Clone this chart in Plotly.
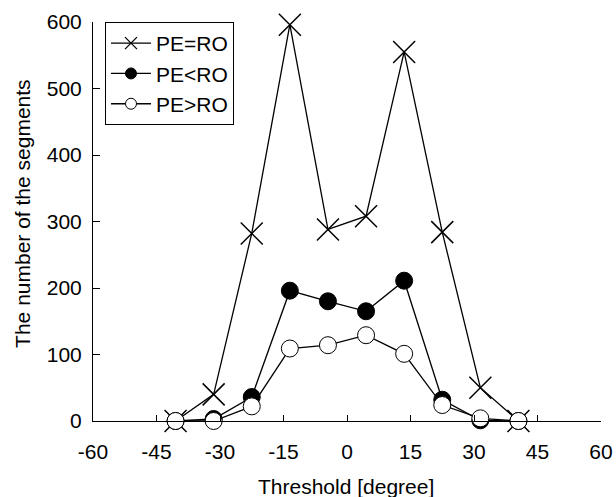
import plotly.graph_objects as go

thresholds = [-40.5, -31.5, -22.5, -13.5, -4.5, 4.5, 13.5, 22.5, 31.5, 40.5]
pe_eq_ro = [0, 40, 282, 596, 288, 308, 555, 284, 50, 0]
pe_lt_ro = [0, 3, 36, 196, 180, 165, 211, 32, 1, 0]
pe_gt_ro = [0, 0, 22, 109, 114, 129, 101, 24, 4, 0]
x_ticks = [-60, -45, -30, -15, 0, 15, 30, 45, 60]
y_ticks = [0, 100, 200, 300, 400, 500, 600]
series_names = ["PE=RO", "PE<RO", "PE>RO"]

FONT = "Liberation Sans, Arial, sans-serif"
LINE = dict(color="black", width=1.3)
markers_plot = [
    dict(symbol="x-thin-open", size=22, color="black", line=dict(color="black", width=1.5)),
    dict(symbol="circle", size=17, color="black", line=dict(color="black", width=1)),
    dict(symbol="circle", size=17, color="white", line=dict(color="black", width=1)),
]
markers_legend = [
    dict(symbol="x-thin-open", size=12, color="black", line=dict(color="black", width=1.3)),
    dict(symbol="circle", size=11, color="black", line=dict(color="black", width=1)),
    dict(symbol="circle", size=11, color="white", line=dict(color="black", width=1)),
]

fig = go.Figure()
for name, ys, mk in zip(series_names, [pe_eq_ro, pe_lt_ro, pe_gt_ro], markers_plot):
    fig.add_trace(go.Scatter(x=thresholds, y=ys, name=name, mode="lines+markers",
                             line=LINE, marker=mk, cliponaxis=False, showlegend=False))
# legend entries (no data) with smaller markers
for name, mk in zip(series_names, markers_legend):
    fig.add_trace(go.Scatter(x=[None], y=[None], name=name, mode="lines+markers",
                             line=LINE, marker=mk, showlegend=True))

fig.update_layout(
    width=616, height=497,
    margin=dict(l=93, r=15, t=22, b=76),
    paper_bgcolor="white", plot_bgcolor="white",
    font=dict(family=FONT, size=21, color="black"),
    legend=dict(x=0.0236, y=1.0, xanchor="left", yanchor="top",
                bordercolor="black", borderwidth=1, bgcolor="white",
                font=dict(family=FONT, size=21, color="black"),
                itemwidth=40, tracegroupgap=0),
    annotations=[
        dict(text="The number of the segments", textangle=-90,
             xref="paper", yref="paper", x=-0.138, y=0.5188,
             xanchor="center", yanchor="middle", showarrow=False,
             font=dict(family=FONT, size=21, color="black")),
        dict(text="Threshold [degree]",
             xref="paper", yref="paper", x=0.499, y=-0.163,
             xanchor="center", yanchor="middle", showarrow=False,
             font=dict(family=FONT, size=21, color="black")),
    ],
)
fig.update_xaxes(range=[-60, 60], tickvals=x_ticks, ticktext=[str(v) for v in x_ticks],
                 showgrid=False, zeroline=False, showline=True, linecolor="black", linewidth=1,
                 ticks="inside", ticklen=6, tickcolor="black", automargin=False,
                 ticklabelstandoff=12)
fig.update_yaxes(range=[0, 600], tickvals=y_ticks, ticktext=[str(v) for v in y_ticks],
                 showgrid=False, zeroline=False, showline=True, linecolor="black", linewidth=1,
                 ticks="inside", ticklen=7, tickcolor="black", automargin=False,
                 ticklabelstandoff=6)

fig.write_html("out.html", config={"displayModeBar": False},
               post_script="document.body.style.margin='0';document.body.style.overflow='hidden';")
